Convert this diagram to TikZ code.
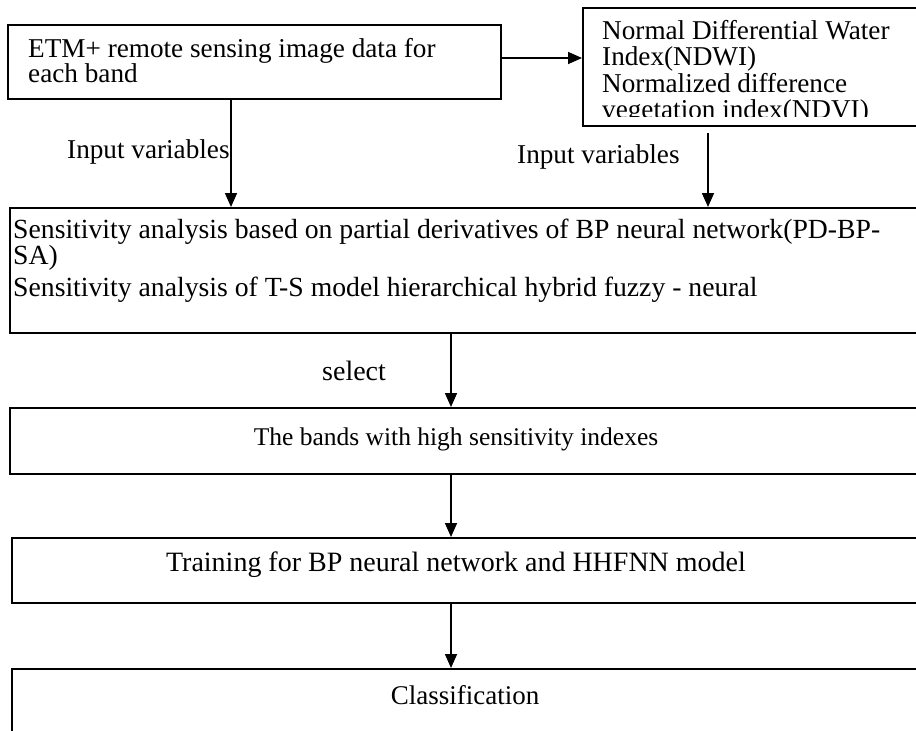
\documentclass[tikz,border=0pt]{standalone}
\usepackage{fontspec}
\setmainfont{Liberation Serif}
\usetikzlibrary{arrows.meta,calc}
\begin{document}
\begin{tikzpicture}[x=1pt,y=-1pt,
  box/.style={draw=black,line width=1.6pt,rectangle,inner sep=0pt,anchor=north west},
  txt/.style={inner sep=0pt,font=\fontsize{27.2}{25}\selectfont},
  arr/.style={line width=1.6pt,-{Triangle[length=14pt,width=12pt]}},
]
\useasboundingbox (0,0) rectangle (916,731);
\clip (0,0) rectangle (916,731);
% boxes
\node[box,minimum width=493pt,minimum height=74pt] (b1) at (7,24) {};
\node[box,minimum width=400pt,minimum height=118pt] (b2) at (582,7) {};
\node[box,minimum width=950pt,minimum height=125pt] (b3) at (9,207) {};
\node[box,minimum width=950pt,minimum height=66pt] (b4) at (9,407) {};
\node[box,minimum width=950pt,minimum height=65pt] (b5) at (11,537) {};
\node[box,minimum width=950pt,minimum height=100pt] (b6) at (11,668) {};
% box texts
\node[txt,anchor=base west] (t1a) at (28,57) {ETM+ remote sensing image data for};
\node[txt,anchor=base west] (t1b) at (28,82) {each band};
\begin{scope}
\clip (582,7) rectangle (916,116);
\node[txt,anchor=base west] (t2a) at (602,39) {Normal Differential Water};
\node[txt,anchor=base west] (t2b) at (602,65) {Index(NDWI)};
\node[txt,anchor=base west] (t2c) at (602,92) {Normalized difference};
\node[txt,anchor=base west] (t2d) at (602,118) {vegetation index(NDVI)};
\end{scope}
\begin{scope}[txt/.append style={font=\fontsize{27.7}{25}\selectfont}]
\node[txt,anchor=base west] (t3a) at (13,238) {Sensitivity analysis based on partial derivatives of BP neural network(PD-BP-};
\node[txt,anchor=base west] (t3b) at (13,264) {SA)};
\node[txt,anchor=base west] (t3c) at (13,296) {Sensitivity analysis of T-S model hierarchical hybrid fuzzy - neural};
\end{scope}
\node[txt,anchor=base,font=\fontsize{25.5}{25}\selectfont] (t4) at (456,445) {The bands with high sensitivity indexes};
\node[txt,anchor=base,font=\fontsize{28}{25}\selectfont] (t5) at (456,571) {Training for BP neural network and HHFNN model};
\node[txt,anchor=base,font=\fontsize{27}{25}\selectfont] (t6) at (465,704) {Classification};
% labels
\node[txt,anchor=base west] (l1) at (67,158) {Input variables};
\node[txt,anchor=base west] (l2) at (517,163) {Input variables};
\node[txt,anchor=base west,font=\fontsize{28}{25}\selectfont] (l3) at (322,380) {select};
% connectors
\coordinate (a1) at (500,58);
\coordinate (a2) at (231,98);
\coordinate (a3) at (708,133);
\coordinate (a4) at (451,332);
\coordinate (a5) at (451,473);
\coordinate (a6) at (451,602);
\draw[arr] (a1) -- (a1 -| b2.west);
\draw[arr] (a2) -- (a2 |- b3.north);
\draw[arr] (a3) -- (a3 |- b3.north);
\draw[arr] (a4) -- (a4 |- b4.north);
\draw[arr] (a5) -- (a5 |- b5.north);
\draw[arr] (a6) -- (a6 |- b6.north);
\end{tikzpicture}
\end{document}
